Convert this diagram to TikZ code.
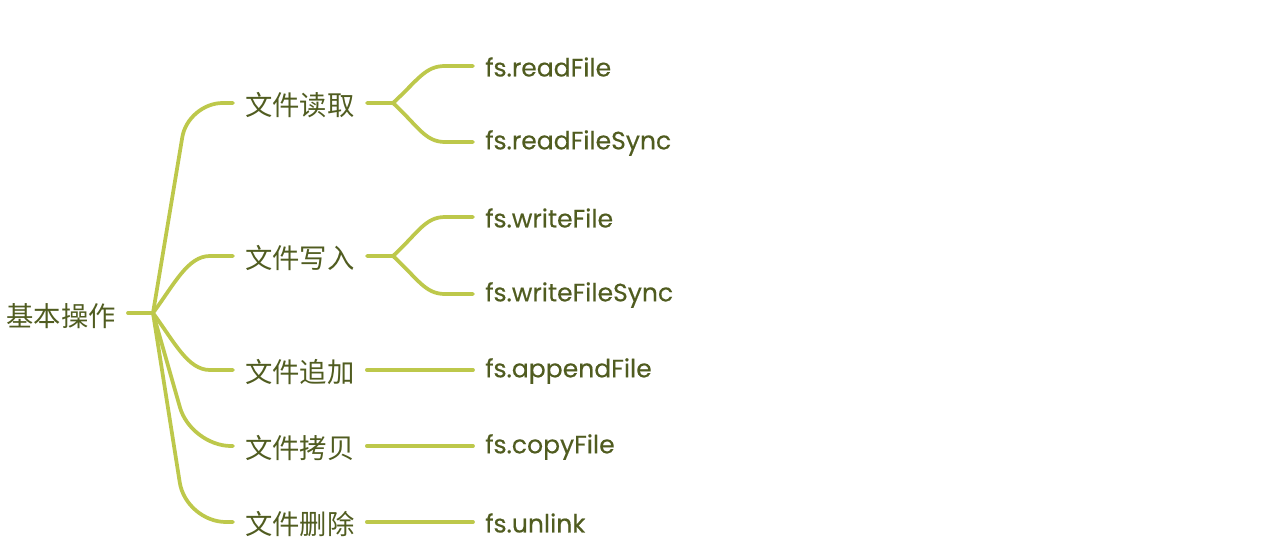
\documentclass[tikz,border=0pt]{standalone}
\usepackage{fontspec}
\setmainfont{Poppins}
\newfontfamily\lff[FakeBold=0.35]{Poppins}
\newfontfamily\cjk{Noto Sans CJK SC}
\definecolor{linec}{RGB}{189,200,75}
\definecolor{textc}{RGB}{80,92,32}
\begin{document}
\begin{tikzpicture}[x=0.75pt,y=-0.75pt,
  every node/.style={inner xsep=9pt,inner ysep=2pt,text=textc},
  cn/.style={font=\cjk\fontsize{20.5}{22}\selectfont},
  lf/.style={font=\lff\fontsize{18.8}{22}\selectfont,anchor=west},
  br/.style={draw=linec,line width=2.8pt,line cap=round,line join=round}]
\useasboundingbox (0,0) rectangle (1280,550);
% nodes
\node[cn,anchor=east] (root) at (128,316) {基本操作};
\coordinate (rj) at (153,313);
\node[cn,anchor=west] (a) at (233,105) {文件读取};
\node[cn,anchor=west] (b) at (233,258) {文件写入};
\node[cn,anchor=west] (c) at (233,372) {文件追加};
\node[cn,anchor=west] (d) at (233,448) {文件拷贝};
\node[cn,anchor=west] (e) at (233,524) {文件删除};
\coordinate (ja) at (393,103);
\coordinate (jb) at (393,256);
\node[lf] (a1) at (473,67) {fs.readFile};
\node[lf] (a2) at (473,143) {fs.readFileSync};
\node[lf] (b1) at (473,218) {fs.writeFile};
\node[lf] (b2) at (473,295) {fs.writeFileSync};
\node[lf] (c1) at (473,371) {fs.appendFile};
\node[lf] (d1) at (473,447) {fs.copyFile};
\node[lf] (e1) at (473,523) {fs.unlink};
% connectors
\draw[br] (root.east |- rj) -- (rj);
\draw[br,rounded corners=26] (rj) -- (188,103) -- (a.west |- 0,103);
\draw[br] (rj) .. controls (175,283) and (188,256) .. (210,256) -- (a.west |- 0,256);
\draw[br] (rj) .. controls (175,343) and (188,370) .. (210,370) -- (a.west |- 0,370);
\draw[br,rounded corners=30] (rj) -- (191,446) -- (a.west |- 0,446);
\draw[br,rounded corners=30] (rj) -- (186,522) -- (a.west |- 0,522);
\draw[br] (a.east |- ja) -- (ja) .. controls (418,80) and (425,66) .. (445,66) -- (a1.west |- 0,66);
\draw[br] (ja) .. controls (418,126) and (425,142) .. (445,142) -- (a1.west |- 0,142);
\draw[br] (b.east |- jb) -- (jb) .. controls (418,233) and (425,217) .. (445,217) -- (a1.west |- 0,217);
\draw[br] (jb) .. controls (418,279) and (425,294) .. (445,294) -- (a1.west |- 0,294);
\draw[br] (c.east |- 0,370) -- (c1.west |- 0,370);
\draw[br] (d.east |- 0,446) -- (d1.west |- 0,446);
\draw[br] (e.east |- 0,522) -- (e1.west |- 0,522);
\end{tikzpicture}
\end{document}
